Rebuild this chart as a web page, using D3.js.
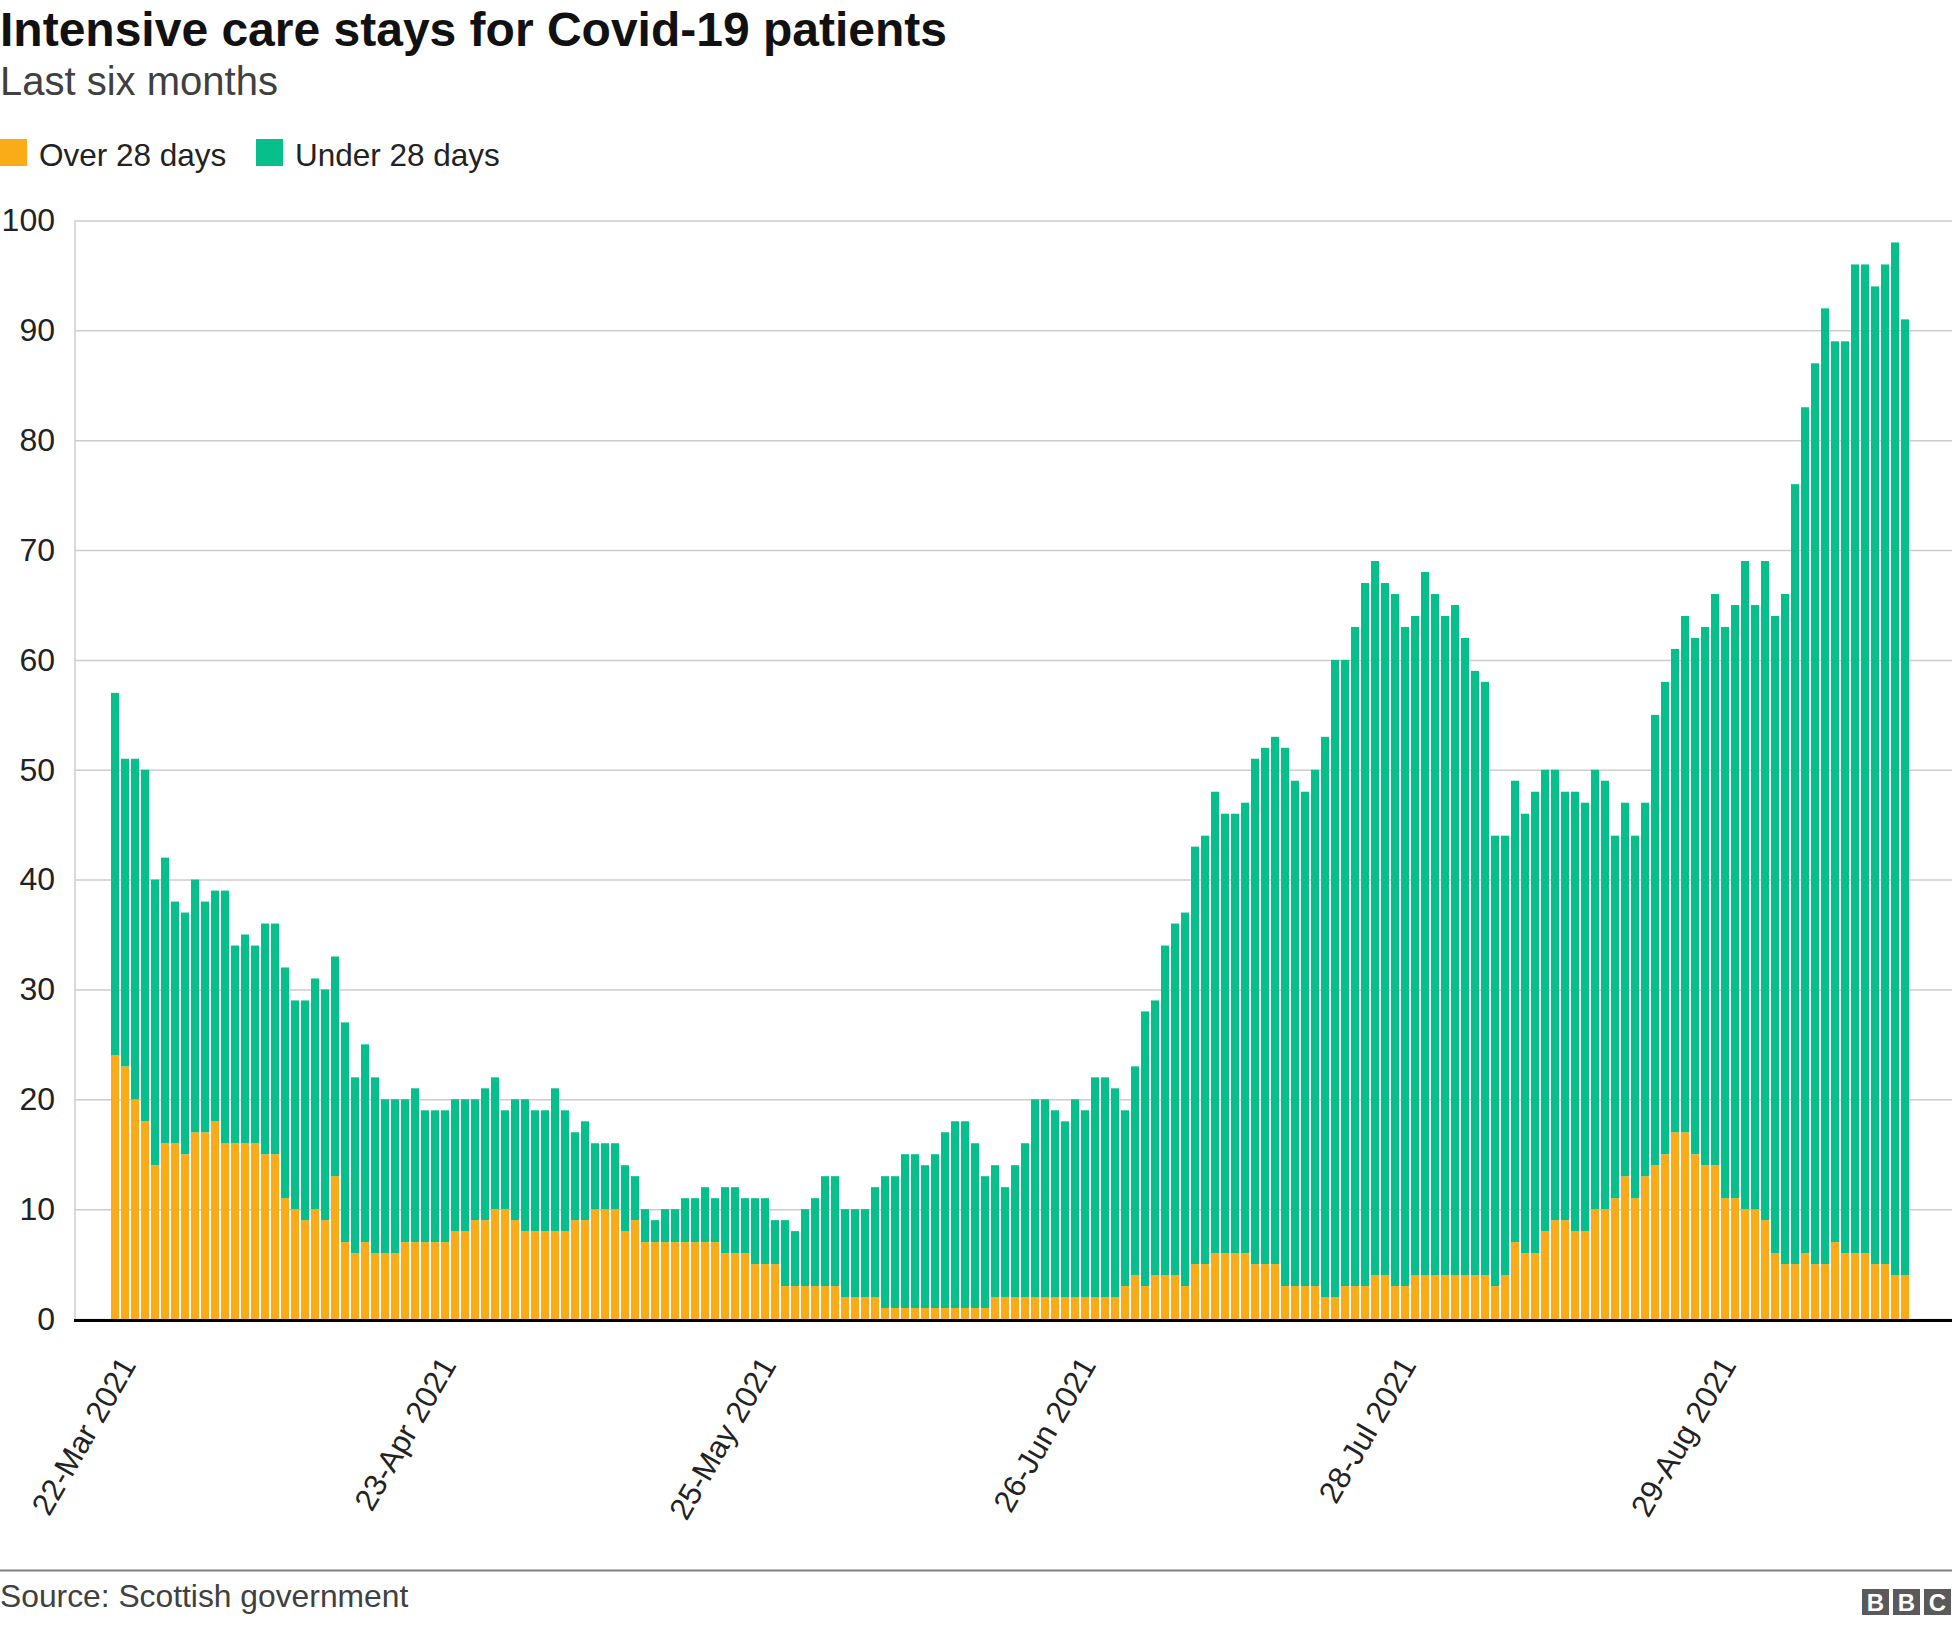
<!DOCTYPE html>
<html>
<head>
<meta charset="utf-8">
<script src="https://cdn.jsdelivr.net/npm/d3@7"></script>
<style>
  html, body { margin: 0; padding: 0; background: #ffffff; }
  svg { display: block; font-family: "Liberation Sans", Arial, Helvetica, sans-serif; }
</style>
</head>
<body>
<svg id="chart" width="1952" height="1626"></svg>
<script>
// ---------------- DATA ----------------
const chartTitle = "Intensive care stays for Covid-19 patients";
const chartSubtitle = "Last six months";
const chartSource = "Source: Scottish government";
const seriesNames = ["Over 28 days", "Under 28 days"];
const seriesColors = ["#faab18", "#06bf8b"];

// daily categories: 22 Mar 2021 .. 17 Sep 2021 (180 days)
const firstDay = Date.UTC(2021, 2, 22);
const dayAfterLast = Date.UTC(2021, 8, 18);
const categories = d3.utcDay.range(new Date(firstDay), new Date(dayAfterLast));

const over28 = [
  24,23,20,18,14,16,16,15,17,17,
  18,16,16,16,16,15,15,11,10,9,
  10,9,13,7,6,7,6,6,6,7,
  7,7,7,7,8,8,9,9,10,10,
  9,8,8,8,8,8,9,9,10,10,
  10,8,9,7,7,7,7,7,7,7,
  7,6,6,6,5,5,5,3,3,3,
  3,3,3,2,2,2,2,1,1,1,
  1,1,1,1,1,1,1,1,2,2,
  2,2,2,2,2,2,2,2,2,2,
  2,3,4,3,4,4,4,3,5,5,
  6,6,6,6,5,5,5,3,3,3,
  3,2,2,3,3,3,4,4,3,3,
  4,4,4,4,4,4,4,4,3,4,
  7,6,6,8,9,9,8,8,10,10,
  11,13,11,13,14,15,17,17,15,14,
  14,11,11,10,10,9,6,5,5,6,
  5,5,7,6,6,6,5,5,4,4
];

const under28 = [
  33,28,31,32,26,26,22,22,23,21,
  21,23,18,19,18,21,21,21,19,20,
  21,21,20,20,16,18,16,14,14,13,
  14,12,12,12,12,12,11,12,12,9,
  11,12,11,11,13,11,8,9,6,6,
  6,6,4,3,2,3,3,4,4,5,
  4,6,6,5,6,6,4,6,5,7,
  8,10,10,8,8,8,10,12,12,14,
  14,13,14,16,17,17,15,12,12,10,
  12,14,18,18,17,16,18,17,20,20,
  19,16,19,25,25,30,32,34,38,39,
  42,40,40,41,46,47,48,49,46,45,
  47,51,58,57,60,64,65,63,63,60,
  60,64,62,60,61,58,55,54,41,40,
  42,40,42,42,41,39,40,39,40,39,
  33,34,33,34,41,43,44,47,47,49,
  52,52,54,59,55,60,58,61,71,77,
  82,87,82,83,90,90,89,91,94,87
];

const xTickLabels = ["22-Mar 2021", "23-Apr 2021", "25-May 2021", "26-Jun 2021", "28-Jul 2021", "29-Aug 2021"];
const yTickValues = [0, 10, 20, 30, 40, 50, 60, 70, 80, 90, 100];

// ---------------- CHART ----------------
const svg = d3.select("#chart");
const W = 1952, H = 1626;
const plotLeft = 75, plotRight = W, plotTop = 220.5, plotBottom = 1319;

const fmt = d3.utcFormat("%d-%b %Y");
const rows = categories.map((d, i) => ({ date: d, over: over28[i], under: under28[i] }));

const x = d3.scaleBand()
  .domain(categories.map(d => +d))
  .range([110, 1910])
  .paddingInner(0.2)
  .paddingOuter(0.1);

const y = d3.scaleLinear().domain([0, 100]).range([plotBottom, plotTop]);

// titles
svg.append("text").attr("x", 0).attr("y", 46)
  .attr("font-size", 48).attr("font-weight", "bold").attr("fill", "#111111")
  .text(chartTitle);
svg.append("text").attr("x", 0).attr("y", 95)
  .attr("font-size", 40).attr("fill", "#404040")
  .text(chartSubtitle);

// legend
const legendX = [0, 256];
const legend = svg.append("g");
seriesNames.forEach((name, i) => {
  legend.append("rect").attr("x", legendX[i]).attr("y", 139).attr("width", 27).attr("height", 27)
    .attr("fill", seriesColors[i]);
  legend.append("text").attr("x", legendX[i] + 39).attr("y", 166)
    .attr("font-size", 31.5).attr("fill", "#222222").text(name);
});

// y axis with gridlines
const yAxis = d3.axisLeft(y).tickValues(yTickValues).tickSize(-(plotRight - plotLeft)).tickPadding(20);
const gy = svg.append("g").attr("transform", `translate(${plotLeft},0)`).call(yAxis);
gy.select(".domain").remove();
gy.selectAll(".tick line").attr("stroke", "#cccccc").attr("stroke-width", 1.5);
gy.selectAll(".tick text").attr("font-size", 32).attr("fill", "#222222")
  .attr("font-family", "'Liberation Sans', Arial, sans-serif");

// left vertical line
svg.append("line").attr("x1", plotLeft).attr("x2", plotLeft)
  .attr("y1", plotTop).attr("y2", plotBottom)
  .attr("stroke", "#cccccc").attr("stroke-width", 1.5);

// stacked bars
const stack = d3.stack().keys(["over", "under"]);
const stacked = stack(rows);
svg.append("g").selectAll("g").data(stacked).join("g")
  .attr("fill", (d, i) => seriesColors[i])
  .selectAll("rect").data(d => d).join("rect")
  .attr("x", d => x(+d.data.date))
  .attr("width", x.bandwidth())
  .attr("y", d => y(d[1]))
  .attr("height", d => y(d[0]) - y(d[1]));

// zero line
svg.append("line").attr("x1", plotLeft - 1).attr("x2", W)
  .attr("y1", y(0) + 1.5).attr("y2", y(0) + 1.5)
  .attr("stroke", "#000000").attr("stroke-width", 3);

// x axis
const tickDates = categories.filter(d => xTickLabels.includes(fmt(d))).map(d => +d);
const xAxis = d3.axisBottom(x).tickValues(tickDates).tickSize(0)
  .tickFormat(v => fmt(new Date(v)));
const gx = svg.append("g").attr("transform", `translate(0,${plotBottom})`).call(xAxis);
gx.select(".domain").remove();
gx.selectAll(".tick text")
  .attr("font-size", 31).attr("fill", "#222222")
  .attr("font-family", "'Liberation Sans', Arial, sans-serif")
  .attr("text-anchor", "end")
  .attr("x", 0).attr("y", 0).attr("dy", 0)
  .attr("transform", "translate(22,46) rotate(-60)");

// footer
svg.append("line").attr("x1", 0).attr("x2", W).attr("y1", 1570.5).attr("y2", 1570.5)
  .attr("stroke", "#808080").attr("stroke-width", 2);
svg.append("text").attr("x", 0).attr("y", 1607)
  .attr("font-size", 31.8).attr("fill", "#404040").text(chartSource);

const logoLetters = ["B", "B", "C"];
const logo = svg.append("g");
logoLetters.forEach((ch, i) => {
  const bx = 1862 + i * 31;
  logo.append("rect").attr("x", bx).attr("y", 1589).attr("width", 27).attr("height", 26).attr("fill", "#5a5a5a");
  logo.append("text").attr("x", bx + 13.5).attr("y", 1611).attr("text-anchor", "middle")
    .attr("font-size", 24).attr("font-weight", "bold").attr("fill", "#ffffff").text(ch);
});
</script>
</body>
</html>
